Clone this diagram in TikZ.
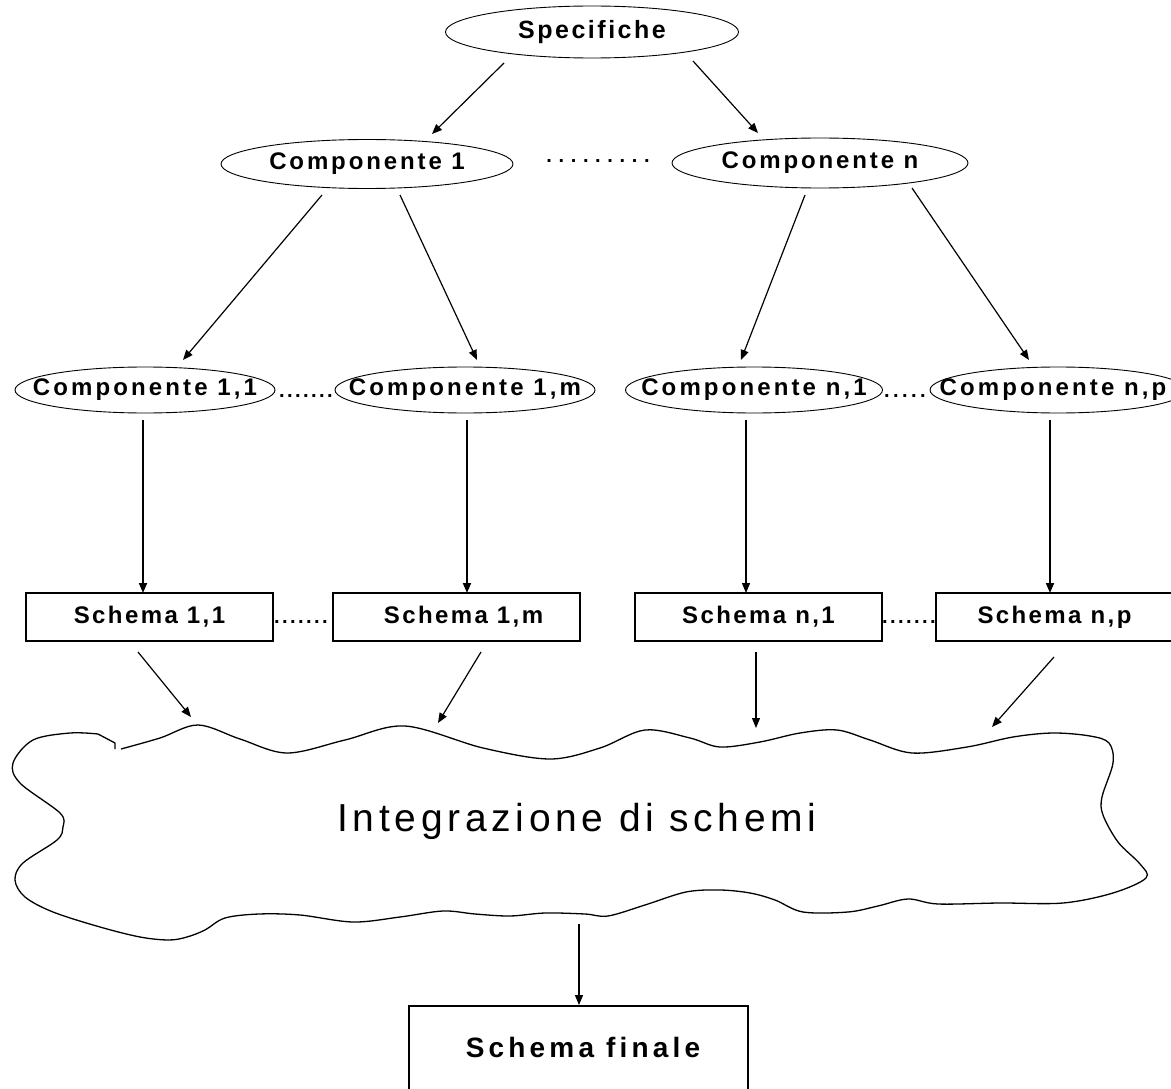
\documentclass[tikz,border=0pt]{standalone}
\usepackage{fontspec}
\setmainfont{Liberation Sans}
\newfontfamily\trackedS{Liberation Sans}[LetterSpace=10]
\newfontfamily\trackedM{Liberation Sans}[LetterSpace=12]
\newfontfamily\trackedL{Liberation Sans}[LetterSpace=13]
\newfontfamily\trackedF{Liberation Sans}[LetterSpace=15]
\usetikzlibrary{shapes.geometric,arrows.meta,calc}

% a row of dots: total width, pitch
\newcommand\dotrow[2]{\hbox to #1{\cleaders\hbox to #2{\hss.\hss}\hfill}}

\begin{document}
\begin{tikzpicture}[x=1pt, y=-1pt,
  oval/.style={ellipse, draw, line width=0.9pt, inner sep=0pt},
  box/.style={rectangle, draw, line width=1.9pt, inner sep=0pt},
  link/.style={line width=1.2pt, -{Triangle[length=10pt,width=8pt]}},
  heavy link/.style={link, line width=1.9pt},
  dotstext/.style={font=\bfseries\fontsize{20}{20}\selectfont, inner sep=0pt, anchor=base},
]
\useasboundingbox (0,0) rectangle (1171,1089);
\clip (0,0) rectangle (1171,1089);

% ---- top level
\node[oval, minimum width=293, minimum height=52] (spec) at (592,32)
  {\makebox[0pt]{\trackedS\bfseries\fontsize{25}{25}\selectfont Specifiche}};

% ---- components
\node[oval, minimum width=292, minimum height=49] (c1) at (367,164)
  {\makebox[0pt]{\trackedM\bfseries\fontsize{24}{24}\selectfont Componente 1}};
\node[oval, minimum width=296, minimum height=50] (cn) at (820,163)
  {\makebox[0pt]{\trackedM\bfseries\fontsize{24}{24}\selectfont Componente n}};
\node[dotstext] (d0) at (598,163) {\dotrow{110pt}{12.2pt}};

% ---- sub-components
\node[oval, minimum width=260, minimum height=46] (c11) at (145,390)
  {\makebox[0pt]{\trackedL\bfseries\fontsize{24}{24}\selectfont Componente 1,1}};
\node[oval, minimum width=260, minimum height=46] (c1m) at (465,390)
  {\makebox[0pt]{\trackedL\bfseries\fontsize{24}{24}\selectfont Componente 1,m}};
\node[oval, minimum width=257, minimum height=46] (cn1) at (754,390)
  {\makebox[0pt]{\trackedL\bfseries\fontsize{24}{24}\selectfont Componente n,1}};
\node[oval, minimum width=256, minimum height=46] (cnp) at (1058,390)
  {\makebox[0pt]{\hspace{-10pt}\trackedL\bfseries\fontsize{24}{24}\selectfont Componente n,p}};
\node[dotstext] (d1) at (306,397) {\dotrow{56pt}{8pt}};
\node[dotstext] (d2) at (905,397) {\dotrow{45pt}{9pt}};

% ---- schemas
\node[box, minimum width=247, minimum height=48] (s11) at (149.5,617)
  {\makebox[0pt]{\trackedS\bfseries\fontsize{24}{24}\selectfont Schema 1,1}};
\node[box, minimum width=247, minimum height=48] (s1m) at (456.5,617)
  {\makebox[0pt]{\hspace{14pt}\trackedS\bfseries\fontsize{24}{24}\selectfont Schema 1,m}};
\node[box, minimum width=247, minimum height=48] (sn1) at (758.5,617)
  {\makebox[0pt]{\trackedS\bfseries\fontsize{24}{24}\selectfont Schema n,1}};
\node[box, minimum width=247, minimum height=48] (snp) at (1059.5,617)
  {\makebox[0pt]{\hspace{-10pt}\trackedS\bfseries\fontsize{24}{24}\selectfont Schema n,p}};
\node[dotstext] (d3) at (301,623) {\dotrow{56pt}{8pt}};
\node[dotstext] (d4) at (909,623) {\dotrow{56pt}{8pt}};

% ---- integration cloud
\draw[line width=1.3pt, line join=round]
  plot[smooth, tension=0.55] coordinates {
    (121,749) (160,738) (198,725) (240,739) (287,753) (345,740) (405,726)
    (483,748) (550,759) (600,748) (645,730) (690,738) (720,747) (760,742)
    (800,733) (837,730) (870,740) (912,753) (967,747) (1013,737) (1053,733)
    (1090,736) (1109,743) (1113,763) (1102,797) (1103,815) (1118,842)
    (1140,864) (1146,878) (1113,893) (1063,903) (1000,903) (938,904)
    (908,899) (878,906) (848,912) (803,912) (775,900) (750,893) (720,890)
    (686,892) (645,905) (608,916) (585,914) (545,913) (510,916) (475,914)
    (443,911) (400,917) (353,922) (300,915) (259,914) (225,918) (205,930)
    (187,937) (169,940) (140,937) (100,927) (53,912) (25,897) (15,880)
    (23,863) (57,840) (63,827) (60,813) (20,783) (13,763) (33,740) (70,733)
    (98,734)}
  -- (115,743) -- (115,749);
\node[inner sep=0pt] (integ) at (577,821)
  {\trackedM\fontsize{39}{39}\selectfont Integrazione di schemi};

% ---- final schema
\node[box, minimum width=339, minimum height=140] (fin) at (578.5,1076) {};
\node[inner sep=0pt, anchor=base] (fint) at (583,1057)
  {\trackedF\bfseries\fontsize{28}{28}\selectfont Schema finale};

% ---- connectors
\draw[link] ($(spec)+(-88,31)$) -- ($(c1)+(65,-30)$);
\draw[link] ($(spec)+(101,29)$) -- ($(cn)+(-62,-30)$);

\draw[link] ($(c1)+(-45,31)$) -- ($(c11)+(38,-30)$);
\draw[link] ($(c1)+(33,31)$) -- ($(c1m)+(12,-30)$);
\draw[link] ($(cn)+(-15,32)$) -- ($(cn1)+(-13,-30)$);
\draw[link] ($(cn)+(92,25)$) -- ($(cnp)+(-29,-30)$);

\draw[heavy link] ($(c11)+(-2,30)$) -- ($(s11)+(-6.5,-24)$);
\draw[heavy link] ($(c1m)+(2,30)$) -- ($(s1m)+(10.5,-24)$);
\draw[link] ($(cn1)+(-8,30)$) -- ($(sn1)+(-12.5,-24)$);
\draw[heavy link] ($(cnp)+(-8,30)$) -- ($(snp)+(-9.5,-24)$);

\draw[link] ($(s11)+(-11.5,35)$) -- ($(integ)+(-386,-104)$);
\draw[link] ($(s1m)+(24.5,35)$) -- ($(integ)+(-139,-98)$);
\draw[link] ($(sn1)+(-2.5,35)$) -- ($(integ)+(179,-93)$);
\draw[link] ($(snp)+(-5.5,40)$) -- ($(integ)+(415,-94)$);

\draw[link] ($(integ)+(2,103)$) -- ($(fin.north)+(0.5,0)$);
\end{tikzpicture}
\end{document}
